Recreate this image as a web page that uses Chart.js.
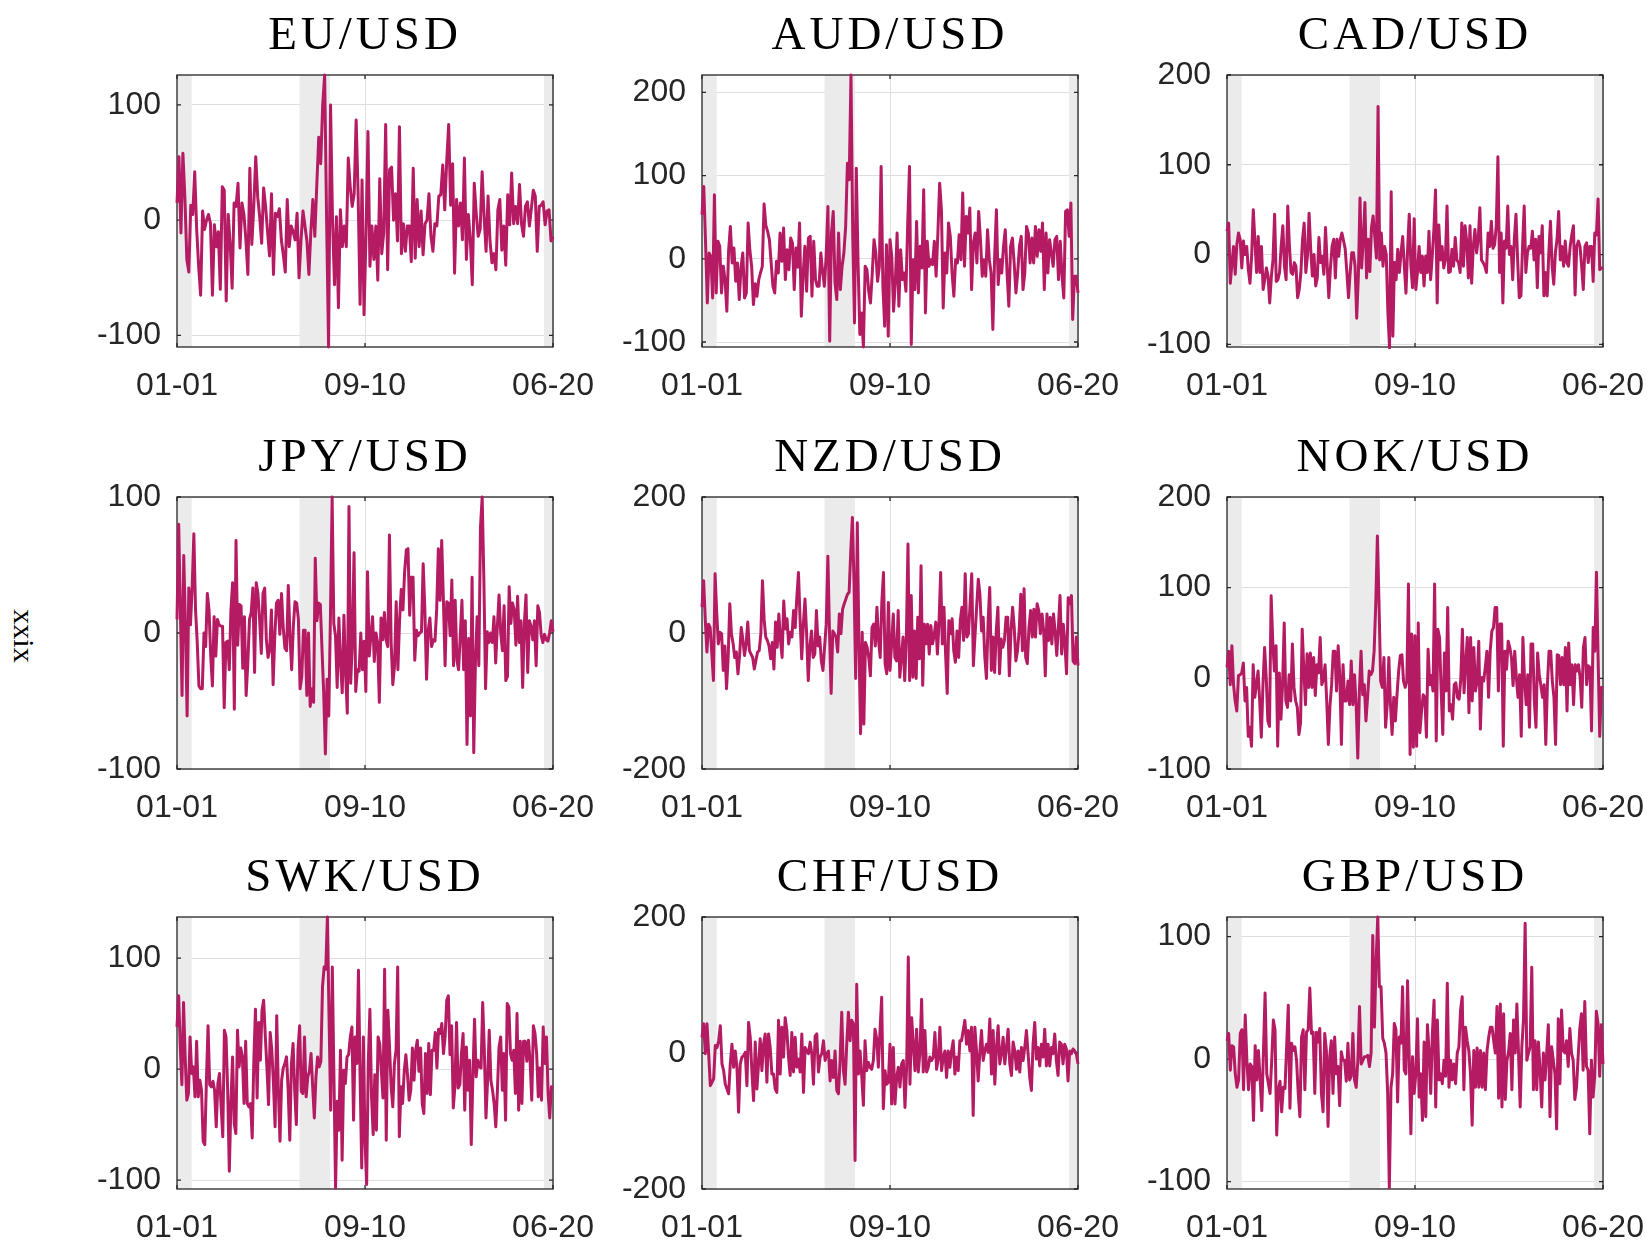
<!DOCTYPE html>
<html><head><meta charset="utf-8">
<script src="https://cdn.jsdelivr.net/npm/chart.js@4.4.0/dist/chart.umd.min.js"></script>
<style>
html,body{margin:0;padding:0;background:#fff;overflow:hidden;width:1648px;height:1241px;}
.cw{position:absolute;}
#ylab{position:absolute;left:24px;top:636px;transform:translate(-50%,-50%) rotate(90deg);font-family:'Liberation Serif',serif;font-size:30px;color:#000;white-space:nowrap;}
</style></head><body>
<div id="ylab">xxix</div>
<script>
const panelTitles = ['EU/USD','AUD/USD','CAD/USD','JPY/USD','NZD/USD','NOK/USD','SWK/USD','CHF/USD','GBP/USD'];
const xTickPos = [0, 0.5, 1];
const xTickLabels = ['01-01','09-10','06-20'];
const shadeStart = [0, 0.326, 0.976];
const shadeEnd = [0.039, 0.407, 1];
const yMinVals = [-110, -106, -103, -100, -200, -100, -108, -200, -106];
const yMaxVals = [126, 221, 200, 100, 200, 200, 137, 200, 116];
const yTickSets = [[-100,0,100],[-100,0,100,200],[-100,0,100,200],[-100,0,100],[-200,0,200],[-100,0,100,200],[-100,0,100],[-200,0,200],[-100,0,100]];

const eurVals = [15,55,-11,58,20,-34,-45,13,5,42,-8,-40,-65,8,-8,0,5,-3,-65,-4,-23,-10,-60,29,26,-70,5,-20,-59,15,12,32,-24,15,5,-17,-47,45,-21,12,55,20,3,-20,28,12,-10,-31,23,-47,6,3,10,-17,-30,-45,18,-23,-5,-10,-17,6,-50,-17,8,-5,-18,-47,-10,18,-14,30,72,49,100,126,0,-110,100,0,-56,3,-76,9,-23,-5,-23,54,29,12,23,87,23,-73,35,-82,-14,77,-40,-5,-34,-5,-52,36,-29,-11,83,-43,44,46,0,23,-18,81,-29,-3,-27,-5,-5,-36,45,-33,18,-23,8,-30,-3,0,23,-14,-27,-3,-5,21,22,48,9,51,83,13,49,-46,18,-5,15,-17,54,-34,5,-17,-56,32,6,-14,-8,42,3,-27,21,-18,-37,-29,-43,9,18,-26,-5,-39,22,-4,41,-3,12,-3,31,-3,-14,12,16,-5,10,26,21,-27,12,13,16,-4,8,9,-18,-14];
const audVals = [53,87,20,-53,7,3,-47,77,-41,21,15,-41,-9,-25,-63,10,39,-5,13,-27,-5,-49,-10,7,-47,-41,43,10,-9,-55,-30,-45,-25,-17,-9,66,40,33,23,-5,-33,-41,-3,-17,31,-3,37,-25,11,-13,25,19,-37,13,-10,43,-69,-20,15,-39,25,27,-45,21,-25,-33,-33,7,-15,-33,3,63,-99,31,57,-29,-49,31,-37,-9,7,39,115,95,221,27,-77,109,-5,-91,-65,-106,-9,-13,-39,-53,-17,23,7,-27,-9,111,-33,-81,17,-93,23,3,-63,-29,31,-57,11,-25,-17,-39,43,111,-103,-1,-37,45,-41,15,-11,83,-65,21,-9,-1,-7,21,-21,31,91,59,-59,7,-17,43,27,-17,-45,-1,-5,29,-1,79,-9,51,31,61,-37,19,31,-5,57,23,-21,-1,-21,35,-1,-17,-85,3,59,-31,-1,-17,15,35,-17,-57,15,25,-5,-41,-17,15,27,-37,-17,39,31,-5,25,-5,39,3,35,9,43,-37,31,-17,23,7,-9,23,27,-25,21,-21,-47,57,59,27,67,-73,-21,-21,-41];
const cadVals = [26,35,-32,-10,9,-22,11,24,17,-15,15,0,9,-17,-32,-2,50,15,-20,20,-20,9,-39,-28,-15,-24,-54,-25,-6,45,-30,-28,-20,9,32,-13,-28,54,10,-20,-22,-9,-13,-48,-39,-20,17,35,-20,-2,46,5,-24,0,-35,-26,19,-9,-2,-22,30,-11,-48,-15,9,17,-26,17,-2,17,24,15,6,-20,-48,-20,2,2,-13,-71,-24,63,-15,17,58,-26,17,-19,30,43,20,-4,165,-6,24,-13,9,0,-65,-104,70,-91,-9,-28,6,-20,2,20,-13,-43,6,45,-13,-37,40,-39,-20,9,-20,-2,-35,-2,-20,26,-28,-2,28,72,-54,33,-6,9,-15,-6,54,-20,-19,6,-13,19,-6,-9,-20,35,-13,32,15,-26,32,-32,9,28,2,17,52,-6,-9,-13,-20,24,9,37,7,11,32,109,-20,24,-54,15,7,54,0,9,-28,17,45,-6,-48,-46,9,54,-20,2,9,7,26,-6,17,-37,20,2,32,-46,-20,-46,2,37,-13,-33,2,17,48,-6,9,-13,15,-9,-13,9,22,32,-45,9,15,9,-13,-39,9,13,-9,9,9,-30,24,22,62,-17,-15,-15];
const jpyVals = [10,80,17,-46,57,6,-61,33,6,34,73,17,-7,-39,-41,-41,0,-10,29,17,-17,-39,12,-17,10,6,5,5,-55,-7,-6,-27,17,37,-56,68,-9,21,20,-26,12,-46,-22,10,15,33,-29,37,29,10,-15,29,33,-5,-18,-12,17,-38,-2,22,24,-1,29,4,-11,-13,35,-2,-27,5,23,22,10,-41,-32,2,2,-46,0,-54,-41,-51,55,9,22,21,-12,-44,-89,-34,-61,12,100,7,-2,-40,11,-22,-44,13,-30,-59,93,-37,-7,59,-43,-27,-28,0,-27,-6,-43,45,-17,-2,12,-21,0,-7,-51,11,-5,15,-5,-10,72,-7,-38,-24,23,-27,9,32,17,45,61,62,13,41,41,-20,2,-2,0,1,51,17,-34,2,11,-10,-5,-6,17,62,24,68,24,-24,23,22,-2,39,-24,24,-20,-27,-2,24,-27,9,-82,-4,-61,41,-88,-21,12,-24,78,100,39,-41,1,-7,0,-7,12,-22,5,28,0,-13,20,-35,-32,34,7,22,17,-9,27,-7,9,-40,7,28,-29,9,5,-5,9,-24,20,15,-2,-7,-1,-5,-6,0,9,1];
const nzdVals = [38,77,20,-28,13,8,-30,-70,87,30,-16,1,-1,-55,-19,-82,-36,43,-1,-15,-36,-28,-60,-33,8,-10,-33,-16,16,-26,-31,-36,-53,-40,-28,-26,-1,77,20,-6,-11,-19,-38,-14,-53,16,-21,28,-10,-36,47,6,21,-16,1,-6,33,8,52,89,20,-38,13,50,-1,-70,-20,3,-36,-31,33,-19,-6,-41,-55,-20,13,113,0,-89,3,-1,-6,-28,28,-1,35,43,50,57,60,120,170,72,-67,162,-16,-148,1,-134,-14,-21,-36,-63,8,13,-19,38,-11,-36,45,89,-45,-60,45,-55,-16,28,-36,-41,33,-65,-36,-6,-70,-6,131,-70,55,-65,3,-67,23,-38,99,-77,13,-16,13,-31,11,-16,-4,16,-31,16,89,-16,38,-31,-89,18,-1,21,-26,-43,3,-36,18,38,-11,87,-6,-1,43,87,-48,-4,38,79,57,3,23,-36,-67,16,67,-55,-6,-58,3,38,-60,-9,-21,-11,23,23,-63,3,38,8,-41,-26,3,57,-26,65,-36,-45,8,33,-6,35,-6,43,33,-1,28,3,-63,28,-11,23,-16,28,3,-33,8,55,-31,13,-16,-60,52,43,55,-41,-45,-6,-48];
const nokVals = [12,30,-7,36,-7,-25,-36,3,4,6,17,-25,-10,-64,-54,-75,15,-21,-7,8,-25,-65,-7,34,1,-47,-53,91,40,8,36,-75,6,-45,-7,61,-25,-32,4,-25,38,-10,-25,-32,-62,-49,54,10,-29,27,-10,28,-10,23,-19,15,6,45,-7,-1,15,-25,-73,-30,-7,30,30,-14,36,3,-73,15,-25,-25,-3,-29,19,-29,4,-29,-88,-14,30,-18,-7,-47,-21,8,4,8,30,82,157,82,-3,-10,23,-54,-29,23,-29,-62,-21,-47,-18,8,25,26,-3,-10,-3,104,-84,49,-76,47,-75,61,-60,-36,-18,-21,-65,32,-7,3,-14,104,-69,54,45,-14,-62,28,-14,78,-36,-29,-45,-7,-5,-21,-23,-1,54,-16,17,45,-38,45,-25,34,-14,-3,41,-56,1,-3,12,30,-21,30,52,56,78,78,-14,60,60,-75,30,10,41,34,23,-8,30,1,-21,4,-64,45,-1,-29,4,-54,38,38,-25,-54,28,4,-8,-21,-7,-73,-7,30,30,-3,-21,-73,26,25,-7,23,-7,34,-36,39,-7,15,-29,15,8,15,1,-32,34,45,-7,14,12,-58,56,30,117,23,-64,-10,-10];
const swkVals = [38,66,20,-14,60,11,-28,-22,29,-4,2,-25,25,-25,-10,-19,-65,-68,-10,39,-14,-16,-11,-19,-52,-13,-4,-34,-61,35,29,-19,-92,-30,11,-49,-58,35,2,19,11,-31,25,-31,-34,-31,-62,8,54,-26,42,8,53,62,30,2,-32,33,17,-13,-52,48,-19,-65,-10,1,5,11,-19,-64,5,23,-19,-50,17,39,-20,-22,29,-25,-7,-2,14,-16,-44,-7,11,2,7,74,92,90,137,47,-37,92,-7,-107,-29,-55,17,-82,-1,-13,11,13,29,38,-46,29,5,89,-7,-89,29,-64,-104,5,54,-25,-59,-5,-55,29,23,-2,-26,90,-64,53,20,-16,-34,5,17,92,-61,-16,-31,-2,13,-5,-28,-19,19,-10,17,26,-2,19,-31,-40,14,-22,23,-23,17,17,33,1,36,32,41,14,29,62,66,13,39,-35,-16,42,-17,-14,14,32,-37,20,-19,8,-68,-7,45,-7,8,2,1,60,17,-44,-10,35,-10,-19,-31,-52,-19,20,29,-19,14,-46,59,56,14,8,17,-22,50,-37,25,-31,25,25,7,26,7,-28,39,32,14,-25,1,-28,38,5,29,-22,-44,-16,-16];
const chfVals = [23,43,-1,43,-1,-48,-43,-38,11,8,18,40,-16,-26,-46,-53,-60,-16,13,-21,3,-21,-87,-16,-6,-4,1,-48,45,23,-28,-70,16,-53,-16,21,-26,13,28,-43,28,8,-31,-31,-53,-58,48,-31,38,-6,52,33,-6,-33,30,-28,23,-21,-9,-28,28,-58,8,3,-1,16,-1,-46,25,28,-28,-6,-1,18,-11,-1,3,-41,-11,-36,3,-55,-60,-11,60,-26,-46,13,60,18,48,43,-158,101,-31,3,-33,-77,18,-26,-14,-21,-24,-11,35,21,-21,33,82,-82,-26,-46,-43,13,-75,8,-75,-36,-21,-50,-16,-11,-80,-21,141,-46,52,13,-26,35,-28,1,79,-28,33,-28,-21,-6,-11,-6,30,-24,-9,38,-26,-6,3,-36,3,-21,3,18,-31,-6,-26,18,18,33,48,13,33,3,38,-92,38,3,-41,1,33,-11,3,13,1,50,-31,33,-46,8,40,-16,-1,23,-16,8,35,-16,-33,16,3,-24,3,-28,8,-11,8,33,-1,-36,-55,13,45,-9,8,-19,13,-6,35,-19,13,-19,8,-1,28,-11,-33,16,13,-16,13,6,-41,3,-1,6,3,-1,-16];
const gbpVals = [15,21,-9,11,10,-12,-23,-17,21,24,-25,36,-1,-25,-4,-6,-50,11,-17,7,-17,-42,6,54,-12,-20,-28,-1,32,24,-62,-25,-18,-43,-23,-24,10,44,-40,13,7,10,-1,-28,-47,18,24,-25,22,24,58,21,22,-28,22,14,25,-28,-43,21,7,-55,2,15,-28,18,-12,-6,-38,6,-1,-1,-18,13,-17,-14,21,-17,-23,-1,43,-4,-1,2,2,3,-6,5,101,26,79,116,59,59,17,13,5,-28,-105,-23,-12,29,24,-35,18,13,59,-9,-12,64,2,-61,2,-28,-12,33,-31,-12,-50,14,-47,28,7,-28,21,48,-39,32,-17,-12,-20,-1,-14,62,-23,-1,-17,-4,-20,5,10,40,51,-25,26,15,7,-12,-54,7,-23,9,-23,7,-23,5,-25,7,18,26,26,15,5,43,-32,45,-39,37,-33,-1,6,21,-25,32,5,45,5,-39,10,32,111,-1,5,10,75,-25,15,-25,14,-9,-39,5,-17,5,28,-47,10,-1,-12,-57,33,-20,40,7,5,15,-6,25,5,-1,-33,-23,2,25,37,-9,47,-6,-9,-61,-1,-31,-14,39,29,-14,28,-4];

const seriesList = [eurVals, audVals, cadVals, jpyVals, nzdVals, nokVals, swkVals, chfVals, gbpVals];

const colLeft = [77, 602, 1127];
const rowTop = [0, 422, 842];
const RPAD = 63;
const CW = 100 + 376 + RPAD, CH = 75 + 272 + 60;

const framePlugin = {
  id: 'frameShade',
  beforeDraw(chart) {
    const tb = chart.titleBlock;
    if (tb && !tb._sp) {
      const orig = tb.draw.bind(tb);
      tb.draw = function() { const c = this.ctx; c.save(); c.letterSpacing = '4px'; orig(); c.restore(); };
      tb._sp = true;
    }
  },
  beforeDatasetsDraw(chart) {
    const {ctx, chartArea: a, scales: {x, y}} = chart;
    ctx.save();
    ctx.fillStyle = '#ebebeb';
    shadeStart.forEach((s, i) => {
      const x0 = x.getPixelForValue(s), x1 = x.getPixelForValue(shadeEnd[i]);
      ctx.fillRect(x0, a.top, x1 - x0, a.bottom - a.top);
    });
    ctx.strokeStyle = '#262626';
    ctx.lineWidth = 1.3;
    const tl = 4;
    ctx.beginPath();
    y.ticks.forEach(t => {
      const py = y.getPixelForValue(t.value);
      ctx.moveTo(a.left, py); ctx.lineTo(a.left + tl, py);
      ctx.moveTo(a.right, py); ctx.lineTo(a.right - tl, py);
    });
    x.ticks.forEach(t => {
      const px = x.getPixelForValue(t.value);
      ctx.moveTo(px, a.bottom); ctx.lineTo(px, a.bottom - tl);
      ctx.moveTo(px, a.top); ctx.lineTo(px, a.top + tl);
    });
    ctx.stroke();
    ctx.strokeRect(a.left, a.top, a.right - a.left, a.bottom - a.top);
    ctx.restore();
  }
};

const tickFont = {family: "'Liberation Sans', Arial, sans-serif", size: 32};

panelTitles.forEach((title, i) => {
  const r = Math.floor(i / 3), c = i % 3;
  const div = document.createElement('div');
  div.className = 'cw';
  div.style.left = colLeft[c] + 'px';
  div.style.top = rowTop[r] + 'px';
  const cv = document.createElement('canvas');
  cv.width = CW; cv.height = CH;
  cv.style.width = CW + 'px'; cv.style.height = CH + 'px';
  div.appendChild(cv);
  document.body.appendChild(div);
  const vals = seriesList[i];
  const yt = yTickSets[i];
  new Chart(cv, {
    type: 'line',
    data: {
      datasets: [{
        data: vals.map((v, k) => ({x: k / (vals.length - 1), y: v})),
        borderColor: 'rgb(180,27,98)',
        borderWidth: 3,
        pointRadius: 0,
        tension: 0,
        fill: false,
        borderJoinStyle: 'round',
        clip: 2
      }]
    },
    options: {
      responsive: false,
      animation: false,
      devicePixelRatio: 1,
      layout: {padding: {left: 0, right: RPAD, top: 0, bottom: 0}},
      plugins: {
        legend: {display: false},
        tooltip: {enabled: false},
        title: {
          display: true, text: title, fullSize: false, color: '#000',
          font: {family: "'Liberation Serif', serif", size: 47, weight: 'normal', lineHeight: 1},
          padding: {top: 13, bottom: 15}
        }
      },
      scales: {
        x: {
          type: 'linear', min: 0, max: 1,
          afterBuildTicks: s => { s.ticks = xTickPos.map(v => ({value: v})); },
          afterFit: s => { s.height = 60; },
          ticks: {
            callback: (v, k) => xTickLabels[k],
            font: tickFont, color: '#262626', padding: 20, maxRotation: 0, autoSkip: false
          },
          grid: {color: '#dedede', lineWidth: 1, drawTicks: false},
          border: {display: false}
        },
        y: {
          min: yMinVals[i], max: yMaxVals[i],
          afterBuildTicks: s => { s.ticks = yt.map(v => ({value: v})); },
          afterFit: s => { s.width = 100; },
          ticks: {
            callback: v => String(v),
            font: tickFont, color: '#262626', padding: 16, autoSkip: false
          },
          grid: {color: '#dedede', lineWidth: 1, drawTicks: false},
          border: {display: false}
        }
      }
    },
    plugins: [framePlugin]
  });
});
</script>
</body></html>
